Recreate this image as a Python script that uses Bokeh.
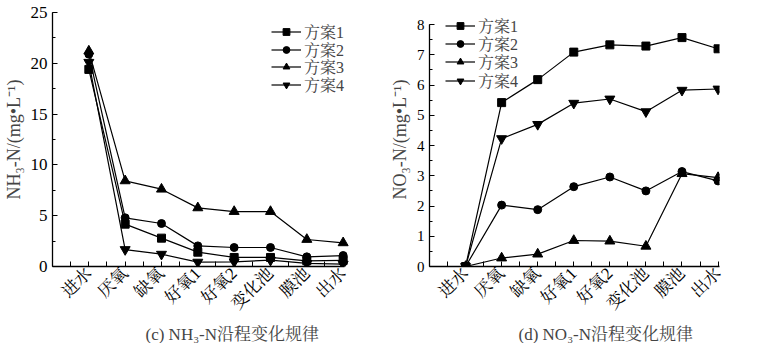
import math
from bokeh.plotting import figure
from bokeh.layouts import row
from bokeh.models import FixedTicker, Range1d, Title, Legend, LegendItem
from bokeh.embed import file_html
from bokeh.resources import INLINE

stages = ["进水", "厌氧", "缺氧", "好氧1", "好氧2", "变化池", "膜池", "出水"]
xpos = [1, 2, 3, 4, 5, 6, 7, 8]
series_names = ["方案1", "方案2", "方案3", "方案4"]

# (c) NH3-N
nh3_s1 = [19.4, 4.17, 2.79, 1.41, 0.89, 0.89, 0.56, 0.60]
nh3_s2 = [20.9, 4.79, 4.23, 2.03, 1.87, 1.87, 0.95, 1.08]
nh3_s3 = [21.2, 8.43, 7.61, 5.77, 5.41, 5.41, 2.66, 2.33]
nh3_s4 = [20.1, 1.67, 1.21, 0.43, 0.46, 0.62, 0.30, 0.23]

# (d) NO3-N
no3_s1 = [0.0, 5.42, 6.18, 7.09, 7.33, 7.29, 7.57, 7.20]
no3_s2 = [0.0, 2.03, 1.88, 2.64, 2.96, 2.50, 3.14, 2.83]
no3_s3 = [0.0, 0.28, 0.41, 0.86, 0.84, 0.67, 3.07, 2.94]
no3_s4 = [0.0, 4.23, 4.70, 5.40, 5.54, 5.12, 5.83, 5.87]

markers = ["square", "circle", "triangle", "inverted_triangle"]
msizes = [8, 8, 10, 10]

SERIF = "Times New Roman, Liberation Serif, Noto Serif CJK SC, Noto Sans CJK SC"
FH = 254
FB = 266  # frame bottom (screen)
GH = 17


def make_fig(series, ytop, ymax, ymajor, yminor, ylabel, title, fw, xend, bl, br,
             leg_x, leg_centers, title_off, ytick_fs):
    p = figure(frame_width=fw, frame_height=FH, output_backend="svg",
               toolbar_location=None, x_range=Range1d(0, xend),
               y_range=Range1d(0, ytop), min_border_left=bl, min_border_top=12,
               min_border_right=br, min_border_bottom=77)
    p.outline_line_color = None
    p.grid.visible = False
    p.background_fill_color = "white"
    p.border_fill_color = "white"

    p.xaxis.ticker = FixedTicker(ticks=xpos, minor_ticks=[i + 0.5 for i in range(8)])
    p.xaxis.bounds = (0, 8.04)
    p.xaxis.major_label_overrides = {x: s for x, s in zip(xpos, stages)}
    p.xaxis.major_label_orientation = math.pi / 4
    p.xaxis.major_tick_in = 5
    p.xaxis.major_tick_out = 0
    p.xaxis.minor_tick_in = 5
    p.xaxis.minor_tick_out = 0
    p.xaxis.major_label_standoff = 4

    yt = []
    v = 0.0
    while v <= ymax + 1e-9:
        yt.append(v)
        v += ymajor
    ym = []
    v = 0.0
    while v <= ymax + 1e-9:
        ym.append(v)
        v += yminor
    p.yaxis.ticker = FixedTicker(ticks=yt, minor_ticks=ym)
    p.yaxis.bounds = (0, ymax)
    p.yaxis.major_label_overrides = {t: str(int(t)) for t in yt}
    p.yaxis.major_tick_in = 5
    p.yaxis.major_tick_out = 0
    p.yaxis.minor_tick_in = 3
    p.yaxis.minor_tick_out = 0
    p.yaxis.major_label_standoff = 5
    p.yaxis.axis_label = ylabel
    p.yaxis.axis_label_text_font_style = "normal"
    p.yaxis.axis_label_text_font = SERIF
    p.yaxis.axis_label_text_font_size = "18px"
    p.yaxis.axis_label_standoff = 4

    for ax in (p.xaxis, p.yaxis):
        ax.axis_line_color = "black"
        ax.axis_line_width = 1.3
        ax.major_tick_line_color = "black"
        ax.minor_tick_line_color = "black"
        ax.major_tick_line_width = 1
        ax.major_label_text_font = SERIF
        ax.major_label_text_color = "black"
    p.xaxis.major_label_text_font_size = "17px"
    p.yaxis.major_label_text_font_size = ytick_fs

    for name, ys, m, ms, yc in zip(series_names, series, markers, msizes, leg_centers):
        r1 = p.line(xpos, ys, line_color="black", line_width=1.2)
        r2 = p.scatter(xpos, ys, marker=m, size=ms, fill_color="black",
                       line_color="black")
        leg = Legend(items=[LegendItem(label=name, renderers=[r1, r2])],
                     location=(leg_x, FB - yc - 10), glyph_width=30,
                     glyph_height=GH, label_height=GH, label_standoff=3,
                     spacing=0, padding=0, margin=0, border_line_color=None,
                     background_fill_alpha=0, label_text_font=SERIF,
                     label_text_font_size="16px")
        p.add_layout(leg)

    t = Title(text=title, align="left", offset=title_off, text_font=SERIF,
              text_font_size="17px", text_font_style="normal", standoff=0)
    p.add_layout(t, "below")
    return p


p1 = make_fig([nh3_s1, nh3_s2, nh3_s3, nh3_s4], 25, 25, 5, 2.5,
              "NH₃-N/(mg•L⁻¹)", "(c) NH₃-N沿程变化规律",
              fw=307, xend=8.45, bl=51, br=22, leg_x=219,
              leg_centers=[33, 51, 68, 86], title_off=93, ytick_fs="17px")
p2 = make_fig([no3_s1, no3_s2, no3_s3, no3_s4], 8.4, 8, 1, 0.5,
              "NO₃-N/(mg•L⁻¹)", "(d) NO₃-N沿程变化规律",
              fw=290, xend=8.04, bl=48, br=39, leg_x=16,
              leg_centers=[27, 45, 63, 82], title_off=89, ytick_fs="15px")

layout = row(p1, p2)
open("out.html", "w").write(file_html(layout, INLINE))
